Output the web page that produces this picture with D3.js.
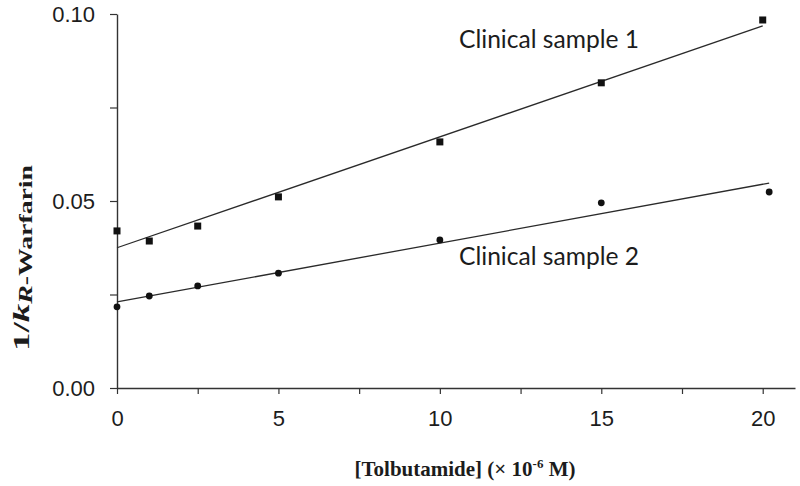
<!DOCTYPE html>
<html>
<head>
<meta charset="utf-8">
<script src="https://cdn.jsdelivr.net/npm/d3@7"></script>
<style>
  html, body { margin: 0; padding: 0; background: #fff; }
  svg { display: block; }
</style>
</head>
<body>
<div id="chart"></div>
<script>
// tolbutamide concentration (x 10^-6 M) and 1/k for the two samples
const conc1 = [0, 1, 2.5, 5, 10, 15, 20];
const sample1 = [0.0420, 0.0393, 0.0433, 0.0511, 0.0658, 0.0816, 0.0984];
const conc2 = [0, 1, 2.5, 5, 10, 15, 20.2];
const sample2 = [0.0217, 0.0246, 0.0273, 0.0307, 0.0396, 0.0495, 0.0524];

// fitted lines, end points
const fitX1 = [0, 20];
const fitY1 = [0.0375, 0.0968];
const fitX2 = [0, 20.2];
const fitY2 = [0.0230, 0.0548];

const xTicks = [0, 2.5, 5, 7.5, 10, 12.5, 15, 17.5, 20];
const yTicks = [0, 0.025, 0.05, 0.075, 0.10];
const seriesLabels = ["Clinical sample 1", "Clinical sample 2"];

const width = 800, height = 486;
const ink = "#1c1c1c";

const svg = d3.select("#chart").append("svg")
  .attr("width", width)
  .attr("height", height);

const x = d3.scaleLinear().domain([0, 21]).range([117, 795]);
const y = d3.scaleLinear().domain([0, 0.10]).range([388, 14]);

// x axis
const gx = svg.append("g")
  .attr("transform", `translate(0,${y(0)})`)
  .call(d3.axisBottom(x)
    .tickValues(xTicks)
    .tickSize(6)
    .tickSizeOuter(0)
    .tickFormat(d => d % 5 === 0 ? d3.format("d")(d) : ""));
gx.select(".domain").attr("stroke", "#333").attr("stroke-width", 1.4);
gx.selectAll(".tick line").attr("stroke", "#333").attr("stroke-width", 1.2);
gx.selectAll(".tick text")
  .attr("y", 22)
  .attr("dy", "0.71em")
  .attr("fill", ink)
  .style("font-family", "'Liberation Sans', Arial, sans-serif")
  .style("font-size", "22px");

// y axis
const gy = svg.append("g")
  .attr("transform", `translate(${x(0)},0)`)
  .call(d3.axisLeft(y)
    .tickValues(yTicks)
    .tickSize(7)
    .tickSizeOuter(0)
    .tickFormat(d => [0, 0.05, 0.10].some(v => Math.abs(v - d) < 1e-9) ? d3.format(".2f")(d) : ""));
gy.select(".domain").attr("stroke", "#333").attr("stroke-width", 1.4);
gy.selectAll(".tick line").attr("stroke", "#333").attr("stroke-width", 1.2);
gy.selectAll(".tick text")
  .attr("x", -22)
  .attr("dy", "0.34em")
  .attr("fill", ink)
  .style("font-family", "'Liberation Sans', Arial, sans-serif")
  .style("font-size", "22px");

// fitted lines
const line = d3.line().x(d => x(d[0])).y(d => y(d[1]));
[[fitX1, fitY1], [fitX2, fitY2]].forEach(([fx, fy]) => {
  svg.append("path")
    .datum(d3.zip(fx, fy))
    .attr("d", line)
    .attr("fill", "none")
    .attr("stroke", "#2a2a2a")
    .attr("stroke-width", 1.3);
});

// squares: sample 1
svg.append("g").selectAll("rect")
  .data(d3.zip(conc1, sample1))
  .join("rect")
  .attr("x", d => x(d[0]) - 3.5)
  .attr("y", d => y(d[1]) - 3.5)
  .attr("width", 7)
  .attr("height", 7)
  .attr("fill", "#111");

// circles: sample 2
svg.append("g").selectAll("circle")
  .data(d3.zip(conc2, sample2))
  .join("circle")
  .attr("cx", d => x(d[0]))
  .attr("cy", d => y(d[1]))
  .attr("r", 3.4)
  .attr("fill", "#111");

// series labels
svg.selectAll("text.series")
  .data(seriesLabels)
  .join("text")
  .attr("class", "series")
  .attr("x", 459)
  .attr("y", (d, i) => i === 0 ? 48 : 265)
  .attr("fill", ink)
  .style("font-family", "Lato, 'Open Sans', sans-serif")
  .style("font-size", "24.6px")
  .text(d => d);

// x axis title
const xt = svg.append("text")
  .attr("x", 465).attr("y", 476)
  .attr("text-anchor", "middle")
  .attr("fill", ink)
  .style("font-family", "'Liberation Serif', 'Times New Roman', serif")
  .style("font-weight", "bold")
  .style("font-size", "21px");
xt.append("tspan").text("[Tolbutamide] (× 10");
xt.append("tspan").attr("dy", -8).style("font-size", "13px").text("-6");
xt.append("tspan").attr("dy", 8).text(" M)");

// y axis title (stretched along its length, as in the original figure)
const yt = svg.append("text")
  .attr("transform", "translate(29,258) rotate(-90)")
  .attr("text-anchor", "middle")
  .attr("textLength", 186)
  .attr("lengthAdjust", "spacingAndGlyphs")
  .attr("fill", ink)
  .style("font-family", "'Liberation Serif', 'Times New Roman', serif")
  .style("font-weight", "bold")
  .style("font-size", "24px");
yt.append("tspan").text("1/");
yt.append("tspan").style("font-style", "italic").text("k");
yt.append("tspan").attr("dy", 3).style("font-style", "italic").style("font-size", "18px").text("R");
yt.append("tspan").style("font-size", "18px").text("-Warfarin");
</script>
</body>
</html>
